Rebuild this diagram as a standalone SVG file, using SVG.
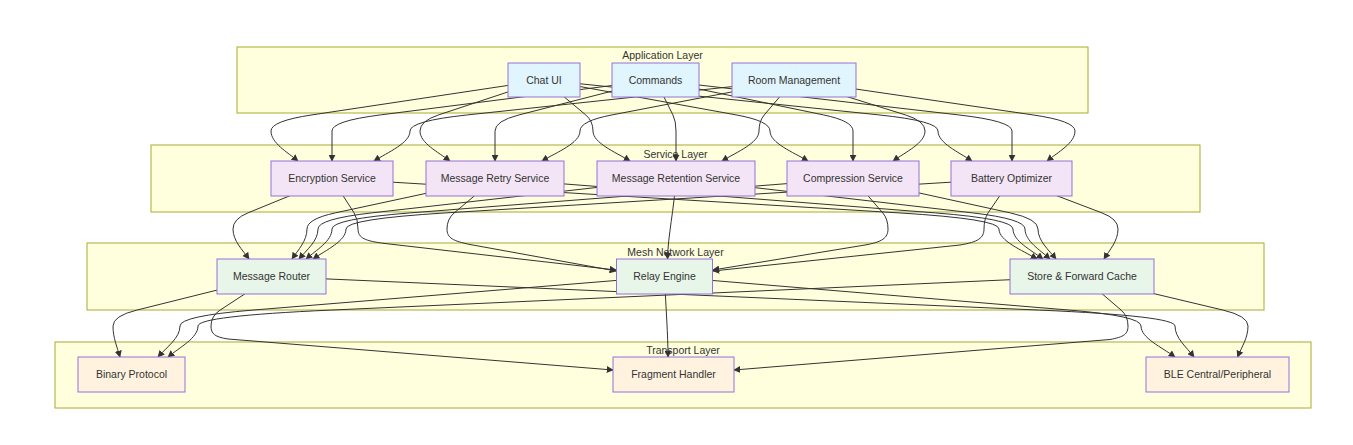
<svg xmlns="http://www.w3.org/2000/svg" width="1353" height="445" viewBox="0 0 1353 445">
<style>
.cluster rect{fill:#ffffde;stroke:#aaaa33;stroke-width:1}
.clabel{font-family:"Liberation Sans",Arial,sans-serif;font-size:10.5px;fill:#333;text-anchor:middle}
.edge path{fill:none;stroke:#333;stroke-width:1;marker-end:url(#arrow)}
.node rect{stroke:#9370DB;stroke-width:1}
.node text{font-family:"Liberation Sans",Arial,sans-serif;font-size:10.5px;fill:#333;text-anchor:middle}
.app rect{fill:#e1f5fe}
.svc rect{fill:#f3e5f5}
.mesh rect{fill:#e8f5e9}
.trn rect{fill:#fff3e0}
</style>
<defs>
<marker id="arrow" viewBox="0 0 10 10" refX="9" refY="5" markerWidth="7" markerHeight="7" markerUnits="userSpaceOnUse" orient="auto">
<path d="M0,0 L10,5 L0,10 z" fill="#333"/>
</marker>
</defs>
<rect width="1353" height="445" fill="#ffffff"/>
<g id="clusters">
<g class="cluster" id="cluster-app"><rect x="237" y="47" width="851" height="66"/><text class="clabel" x="662.5" y="59">Application Layer</text></g>
<g class="cluster" id="cluster-svc"><rect x="151" y="145" width="1049" height="67"/><text class="clabel" x="675.5" y="157.5">Service Layer</text></g>
<g class="cluster" id="cluster-mesh"><rect x="87" y="243" width="1177" height="67"/><text class="clabel" x="675.5" y="255.5">Mesh Network Layer</text></g>
<g class="cluster" id="cluster-trn"><rect x="55" y="342" width="1256" height="66"/><text class="clabel" x="683" y="353.5">Transport Layer</text></g>
</g>
<g id="connectors" class="edge">
<path d="M544,80 L312,114.9 Q271,121 271,131 C271,143 287.2,152 298,161"/>
<path d="M655.5,80 L380.5,114.9 Q332,121 332,131 L332,161"/>
<path d="M794,80 L467.6,114.9 Q410,121 410,131 C410,143 388.4,152 374,161"/>
<path d="M544,80 L438.6,114.9 Q420,121 420,131 C420,143 438,152 450,161"/>
<path d="M655.5,80 L519.1,114.9 Q495,121 495,131 L495,161"/>
<path d="M794,80 L612.1,114.9 Q580,121 580,131 C580,143 557.2,152 542,161"/>
<path d="M544,80 L585.7,114.9 Q593,121 593,131 C593,143 615.2,152 630,161"/>
<path d="M655.5,80 L672.9,114.9 Q676,121 676,131 L676,161"/>
<path d="M794,80 L764.3,114.9 Q759,121 759,131 C759,143 736.8,152 722,161"/>
<path d="M544,80 L736.1,114.9 Q770,121 770,131 C770,143 792.8,152 808,161"/>
<path d="M655.5,80 L823.4,114.9 Q853,121 853,131 L853,161"/>
<path d="M794,80 L905.4,114.9 Q925,121 925,131 C925,143 905.8,152 893,161"/>
<path d="M544,80 L878.9,114.9 Q938,121 938,131 C938,143 958.4,152 972,161"/>
<path d="M655.5,80 L958.5,114.9 Q1012,121 1012,131 L1012,161"/>
<path d="M794,80 L1032.9,114.9 Q1075,121 1075,131 C1075,143 1058.2,152 1047,161"/>

<path d="M332,178.5 L247.9,212.9 Q233,219 233,229 C233,241 242.6,250 249,259"/>
<path d="M495,178.5 L335.2,212.9 Q307,219 307,229 C307,241 298,250 292,259"/>
<path d="M676,178.5 L371.7,212.9 Q318,219 318,229 C318,241 306.6,250 299,259"/>
<path d="M853,178.5 L410.2,212.9 Q332,219 332,229 C332,241 316.4,250 306,259"/>
<path d="M1011.5,178.5 L445.8,212.9 Q346,219 346,229 C346,241 326.2,250 313,259"/>
<path d="M332,178.5 L354.1,212.9 Q358,219 358,229 C358,238 365,241 385,243.5 L616,270"/>
<path d="M495,178.5 L454.2,212.9 Q447,219 447,229 C447,238 453,241 470,244.5 L616,271"/>
<path d="M676,178.5 C674,210 668,235 667.5,259"/>
<path d="M853,178.5 L882.8,212.9 Q888,219 888,229 C888,238 882,242 865,245 L713,270"/>
<path d="M1011.5,178.5 L988.1,212.9 Q984,219 984,229 C984,238 978,242 960,245 L713,271"/>
<path d="M332,178.5 L899,212.9 Q999,219 999,229 C999,241 1021.8,250 1037,259"/>
<path d="M495,178.5 L935.3,212.9 Q1013,219 1013,229 C1013,241 1031,250 1043,259"/>
<path d="M676,178.5 L972.7,212.9 Q1025,219 1025,229 C1025,241 1040,250 1050,259"/>
<path d="M853,178.5 L1010.3,212.9 Q1038,219 1038,229 C1038,241 1048.8,250 1056,259"/>
<path d="M1011.5,178.5 L1102,212.9 Q1118,219 1118,229 C1118,241 1109.6,250 1104,259"/>

<path d="M271.5,276.5 L136.8,310.1 Q113,316 113,326 C113,338 117.2,347 120,357"/>
<path d="M664.5,276.5 L252.7,310.1 Q180,316 180,326 C180,338 166.8,347 158,357"/>
<path d="M1082,276.5 L330.6,310.1 Q198,316 198,326 C198,338 180,347 168,357"/>
<path d="M271.5,276.5 L220.1,310.1 Q211,316 211,326 C211,334 215,337 228,339 L613,370"/>
<path d="M664.5,276.5 C666,310 668,335 668,357"/>
<path d="M1082,276.5 L1121.1,310.1 Q1128,316 1128,326 C1128,334 1124,337 1110,339.5 L734,370"/>
<path d="M271.5,276.5 L1039.5,310.1 Q1175,316 1175,326 C1175,338 1186.4,347 1194,357"/>
<path d="M664.5,276.5 L1069.5,310.1 Q1141,316 1141,326 C1141,338 1161.4,347 1175,357"/>
<path d="M1082,276.5 L1223.1,310.1 Q1248,316 1248,326 C1248,338 1241.7,347 1237.5,357"/>
</g>
<g id="node-chatui" class="node app"><rect x="508" y="63" width="72" height="34"/><text x="544" y="83.7">Chat UI</text></g>
<g id="node-commands" class="node app"><rect x="612" y="63" width="87" height="34"/><text x="655.5" y="83.7">Commands</text></g>
<g id="node-room" class="node app"><rect x="732" y="63" width="124" height="34"/><text x="794" y="83.7">Room Management</text></g>
<g id="node-encryption" class="node svc"><rect x="271" y="161" width="122" height="35"/><text x="332" y="182.2">Encryption Service</text></g>
<g id="node-retry" class="node svc"><rect x="426" y="161" width="138" height="35"/><text x="495" y="182.2">Message Retry Service</text></g>
<g id="node-retention" class="node svc"><rect x="597" y="161" width="158" height="35"/><text x="676" y="182.2">Message Retention Service</text></g>
<g id="node-compression" class="node svc"><rect x="787" y="161" width="132" height="35"/><text x="853" y="182.2">Compression Service</text></g>
<g id="node-battery" class="node svc"><rect x="951" y="161" width="121" height="35"/><text x="1011.5" y="182.2">Battery Optimizer</text></g>
<g id="node-router" class="node mesh"><rect x="217" y="259" width="109" height="35"/><text x="271.5" y="280.2">Message Router</text></g>
<g id="node-relay" class="node mesh"><rect x="616.5" y="259" width="96" height="35"/><text x="664.5" y="280.2">Relay Engine</text></g>
<g id="node-storeforward" class="node mesh"><rect x="1010" y="259" width="144" height="35"/><text x="1082" y="280.2">Store &amp; Forward Cache</text></g>
<g id="node-binary" class="node trn"><rect x="78" y="357" width="107" height="35"/><text x="131.5" y="378.2">Binary Protocol</text></g>
<g id="node-fragment" class="node trn"><rect x="613" y="357" width="121" height="35"/><text x="673.5" y="378.2">Fragment Handler</text></g>
<g id="node-ble" class="node trn"><rect x="1146" y="357" width="143" height="35"/><text x="1217.5" y="378.2">BLE Central/Peripheral</text></g>
</svg>
